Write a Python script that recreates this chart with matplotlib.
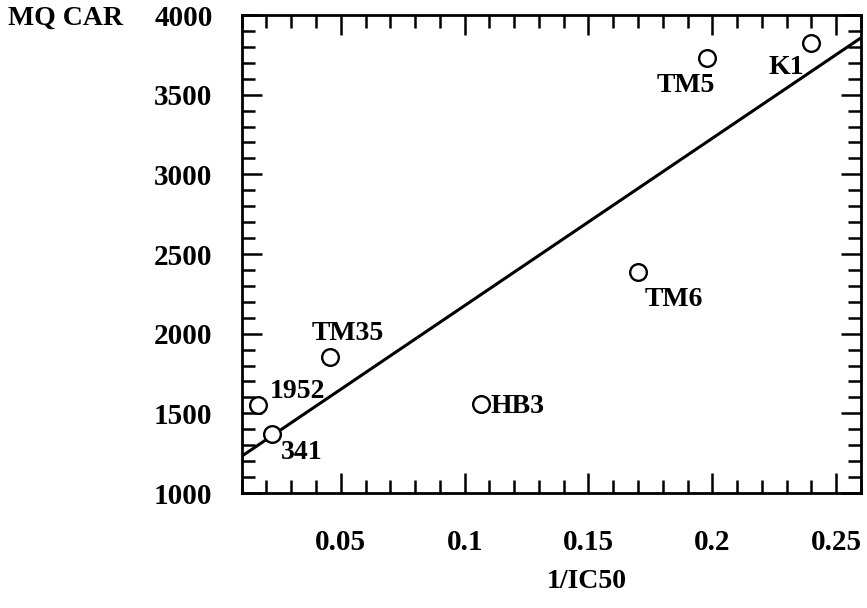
import numpy as np
import matplotlib
matplotlib.use("Agg")
import matplotlib.pyplot as plt
from matplotlib.ticker import MultipleLocator, FixedFormatter, FixedLocator

# Cell lines: potency (1/IC50) against MQ CAR score
names = ["1952", "341", "TM35", "HB3", "TM6", "TM5", "K1"]
inv_ic50 = [0.0167, 0.0221, 0.0455, 0.1067, 0.1700, 0.1980, 0.2398]
mq_car = [1550, 1370, 1852, 1557, 2390, 3729, 3823]

x_ticks = [0.05, 0.1, 0.15, 0.2, 0.25]
x_tick_labels = ["0.05", "0.1", "0.15", "0.2", "0.25"]
y_ticks = [1000, 1500, 2000, 2500, 3000, 3500, 4000]
y_tick_labels = ["1000", "1500", "2000", "2500", "3000", "3500", "4000"]

# label placement (pixel offsets from each point, ha, va)
label_pos = {
    "1952": (11, 14, "left", "center"),
    "341": (9, -18, "left", "center"),
    "TM35": (18, 24, "center", "center"),
    "HB3": (9, -2, "left", "center"),
    "TM6": (7, -28, "left", "center"),
    "TM5": (-22, -27, "center", "center"),
    "K1": (-7, -24, "right", "center"),
}

plt.rcParams["font.family"] = ["Liberation Serif", "DejaVu Serif"]
plt.rcParams["font.weight"] = "bold"

fig = plt.figure(figsize=(8.67, 6.08), dpi=100)
ax = fig.add_axes([0.2788, 0.1891, 0.7142, 0.7862])

ax.set_xlim(0.01, 0.26)
ax.set_ylim(1000, 4000)

# least-squares trend line across the full x range
slope, intercept = np.polyfit(inv_ic50, mq_car, 1)
xl = np.array(ax.get_xlim())
ax.plot(xl, slope * xl + intercept, color="black", lw=2.2, solid_capstyle="butt")

ax.plot(inv_ic50, mq_car, linestyle="none", marker="o", markersize=12,
        markerfacecolor="white", markeredgecolor="black", markeredgewidth=1.7,
        zorder=3)

for n, x, y in zip(names, inv_ic50, mq_car):
    dx, dy, ha, va = label_pos[n]
    ax.annotate(n, (x, y), xytext=(dx * 0.72, dy * 0.72),
                textcoords="offset points", ha=ha, va=va,
                fontsize=20, fontweight="bold")

ax.xaxis.set_major_locator(FixedLocator(x_ticks))
ax.xaxis.set_major_formatter(FixedFormatter(x_tick_labels))
ax.xaxis.set_minor_locator(MultipleLocator(0.01))
ax.yaxis.set_major_locator(FixedLocator(y_ticks))
ax.yaxis.set_major_formatter(FixedFormatter(y_tick_labels))
ax.yaxis.set_minor_locator(MultipleLocator(100))

ax.tick_params(which="both", direction="in", top=True, right=True,
               width=1.8, labelsize=21)
ax.tick_params(which="major", length=14.5)
ax.tick_params(which="minor", length=9.5)
ax.tick_params(axis="x", which="major", pad=26)
ax.tick_params(axis="y", which="major", pad=21)

for s in ax.spines.values():
    s.set_linewidth(2.0)

fig.text(8 / 867, 1 - 18 / 608, "MQ CAR", ha="left", va="center",
         fontsize=20, fontweight="bold")
fig.text(587 / 867, 1 - 582 / 608, "1/IC50", ha="center", va="center",
         fontsize=20, fontweight="bold")

fig.savefig("out.png", dpi=100)
